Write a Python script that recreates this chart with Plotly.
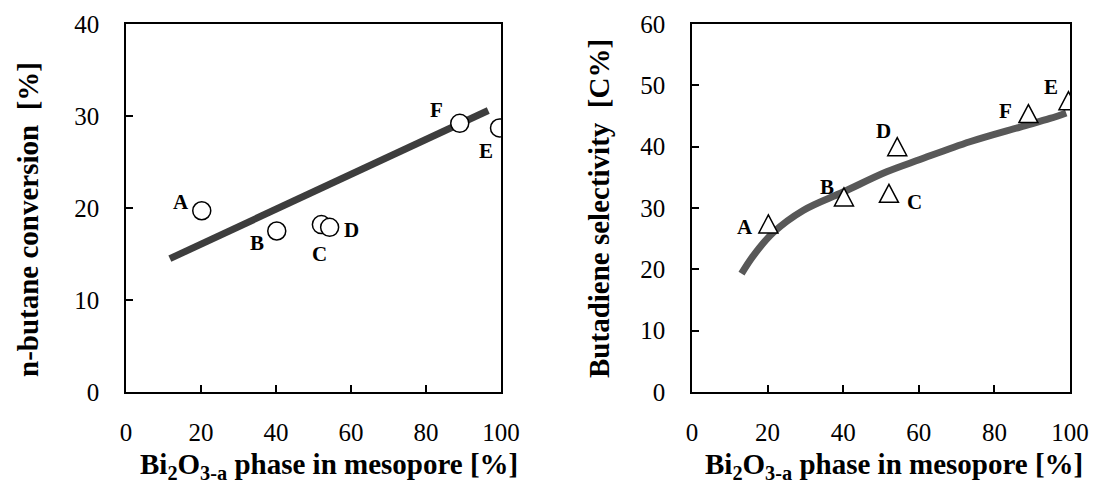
import plotly.graph_objects as go

# Samples and measured values
samples = ["A", "B", "C", "D", "E", "F"]
phase_pct = [20.2, 40.2, 52.1, 54.3, 99.6, 89.0]          # Bi2O3-a phase in mesopore [%]
conversion = [19.7, 17.5, 18.2, 17.9, 28.7, 29.2]          # n-butane conversion [%]
selectivity = [27.4, 31.8, 32.4, 40.0, 47.5, 45.4]         # butadiene selectivity [C%]

# Trend lines
conv_trend_x = [11.7, 96.6]
conv_trend_y = [14.5, 30.6]
sel_trend_x = [13.1, 16.2, 21.5, 29.4, 40.0, 51.5, 60.3, 73.5, 86.8, 94.7, 99.0]
sel_trend_y = [19.3, 22.2, 26.0, 29.6, 32.6, 35.9, 37.9, 40.8, 43.2, 44.6, 45.5]

x_ticks = [0, 20, 40, 60, 80, 100]
conv_ticks = [0, 10, 20, 30, 40]
sel_ticks = [0, 10, 20, 30, 40, 50, 60]

# Pixel offsets of the sample letters from their points
conv_label_shift = {"A": (-21, 9), "B": (-20, -12), "C": (-2, -29),
                    "D": (22, -3), "E": (-14, -23), "F": (-23, 13)}
sel_label_shift = {"A": (-23, -3), "B": (-17, 10), "C": (26, -9),
                   "D": (-14, 16), "E": (-17, 14), "F": (-23, 3)}

SERIF = "Liberation Serif, Times New Roman, serif"
W, H = 1095, 486

fig = go.Figure()

fig.add_trace(go.Scatter(
    x=conv_trend_x, y=conv_trend_y, mode="lines",
    line=dict(color="#3d3d3d", width=7), xaxis="x", yaxis="y",
    hoverinfo="skip", showlegend=False))
fig.add_trace(go.Scatter(
    x=phase_pct, y=conversion, mode="markers", text=samples,
    marker=dict(symbol="circle", size=18, color="white",
                line=dict(color="black", width=1.5)),
    xaxis="x", yaxis="y", showlegend=False))

fig.add_trace(go.Scatter(
    x=sel_trend_x, y=sel_trend_y, mode="lines", line_shape="spline",
    line=dict(color="#585858", width=7), xaxis="x2", yaxis="y2",
    hoverinfo="skip", showlegend=False))
# hover carrier for the selectivity points; the open triangles are drawn as shapes below
fig.add_trace(go.Scatter(
    x=phase_pct, y=selectivity, mode="markers", text=samples,
    marker=dict(symbol="triangle-up", size=18, color="rgba(0,0,0,0)"),
    xaxis="x2", yaxis="y2", showlegend=False))

# open triangles (19 px wide, 18 px tall) centred on each selectivity point
tri_path = "M-9.5,-9 L9.5,-9 L0,9 Z"
shapes = []
for xv, yv in zip(phase_pct, selectivity):
    shapes.append(dict(type="path", xref="x2", yref="y2",
                       xsizemode="pixel", ysizemode="pixel",
                       xanchor=xv, yanchor=yv, path=tri_path,
                       fillcolor="white", line=dict(color="black", width=1.5),
                       layer="above"))

label_font = dict(family=SERIF, size=21, color="black")
annotations = []
for s, xv, yv in zip(samples, phase_pct, conversion):
    dx, dy = conv_label_shift[s]
    annotations.append(dict(x=xv, y=yv, xref="x", yref="y", text=f"<b>{s}</b>",
                            showarrow=False, xshift=dx, yshift=dy, font=label_font))
for s, xv, yv in zip(samples, phase_pct, selectivity):
    dx, dy = sel_label_shift[s]
    annotations.append(dict(x=xv, y=yv, xref="x2", yref="y2", text=f"<b>{s}</b>",
                            showarrow=False, xshift=dx, yshift=dy, font=label_font))

x_title = "<b>Bi<sub>2</sub>O<sub>3-a</sub> phase in mesopore [%]</b>"
title_font = dict(family=SERIF, size=29, color="black")
annotations += [
    dict(x=329 / W, y=1 - 466 / H, xref="paper", yref="paper", text=x_title,
         showarrow=False, font=title_font, xanchor="center", yanchor="middle"),
    dict(x=894 / W, y=1 - 466 / H, xref="paper", yref="paper", text=x_title,
         showarrow=False, font=title_font, xanchor="center", yanchor="middle"),
    dict(x=28 / W, y=1 - 220 / H, xref="paper", yref="paper",
         text="<b>n-butane conversion\u00a0\u00a0[%]</b>", textangle=-90,
         showarrow=False, font=title_font, xanchor="center", yanchor="middle"),
    dict(x=599 / W, y=1 - 209 / H, xref="paper", yref="paper",
         text="<b>Butadiene selectivity\u00a0\u00a0[C%]</b>", textangle=-90,
         showarrow=False, font=title_font, xanchor="center", yanchor="middle"),
]

tick_font = dict(family=SERIF, size=25, color="black")
axis_common = dict(showgrid=False, zeroline=False, showline=True, mirror=True,
                   linecolor="black", linewidth=1.5, ticks="inside", ticklen=7,
                   tickwidth=1.5, tickcolor="black", tickfont=tick_font,
                   automargin=False)

y_dom = [1 - 392 / H, 1 - 24 / H]

fig.update_layout(
    width=W, height=H,
    margin=dict(l=0, r=0, t=0, b=0),
    paper_bgcolor="white", plot_bgcolor="white",
    showlegend=False,
    xaxis=dict(domain=[126 / W, 501 / W], range=[0, 100], tickvals=x_ticks,
               ticklabelstandoff=17, anchor="y", **axis_common),
    yaxis=dict(domain=y_dom, range=[0, 40], tickvals=conv_ticks,
               ticklabelstandoff=20, anchor="x", **axis_common),
    xaxis2=dict(domain=[692 / W, 1070 / W], range=[0, 100], tickvals=x_ticks,
                ticklabelstandoff=17, anchor="y2", **axis_common),
    yaxis2=dict(domain=y_dom, range=[0, 60], tickvals=sel_ticks,
                ticklabelstandoff=20, anchor="x2", **axis_common),
    shapes=shapes,
    annotations=annotations,
)

fig.write_html("out.html")
